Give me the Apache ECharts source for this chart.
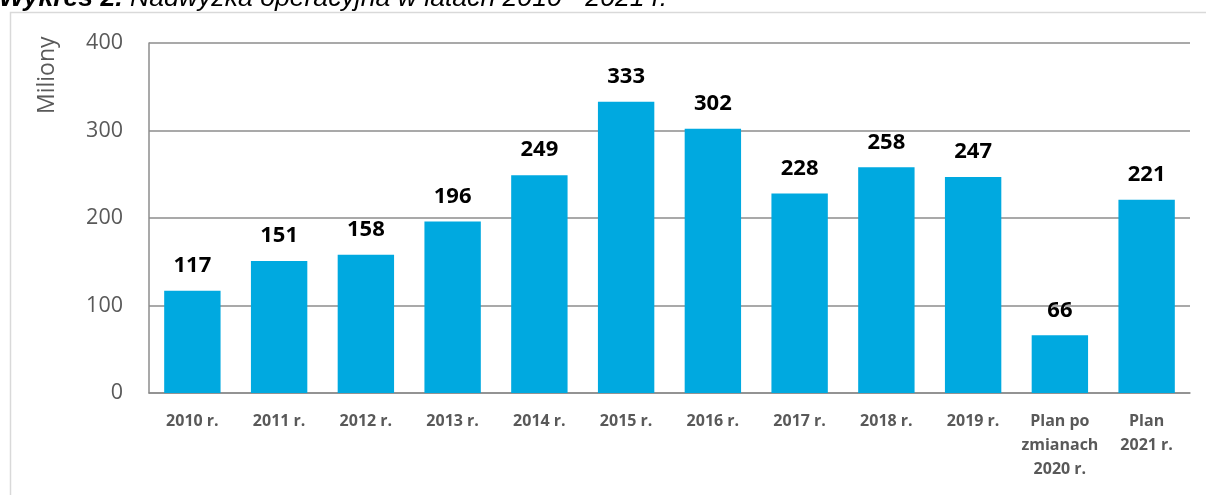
<!DOCTYPE html>
<html>
<head>
<meta charset="utf-8">
<script src="https://cdn.jsdelivr.net/npm/echarts@6/dist/echarts.min.js"></script>
<style>
  html, body { margin: 0; padding: 0; background: #fff; }
  #chart { width: 1206px; height: 495px; }
</style>
</head>
<body>
<div id="chart"></div>
<script>
// kategorie i wartości (mln zł)
const categories = ["2010 r.", "2011 r.", "2012 r.", "2013 r.", "2014 r.", "2015 r.",
    "2016 r.", "2017 r.", "2018 r.", "2019 r.", "Plan po\nzmianach\n2020 r.", "Plan\n2021 r."];
const values = [117, 151, 158, 196, 249, 333, 302, 228, 258, 247, 66, 221];
const yTicks = [0, 100, 200, 300, 400];

const chart = echarts.init(document.getElementById("chart"), null, { renderer: "canvas" });

const option = {
    backgroundColor: "#fff",
    animation: false,
    graphic: [
        {
            type: "rect",
            shape: { x: 10.5, y: 12.5, width: 1210, height: 500 },
            style: { fill: "none", stroke: "#d9d9d9", lineWidth: 1.5 },
            silent: true
        },
        {
            // tytuł wykresu (ucięty u góry jak w oryginale)
            type: "text",
            x: -1,
            y: -1,
            style: {
                text: "{b|Wykres 2.}{i| Nadwyżka operacyjna w latach 2010 - 2021 r.}",
                verticalAlign: "middle",
                rich: {
                    b: { fontFamily: "Liberation Sans", fontSize: 26.6, fontWeight: "bold", fontStyle: "italic", fill: "#000" },
                    i: { fontFamily: "Liberation Sans", fontSize: 26.6, fontStyle: "italic", fill: "#000" }
                }
            }
        },
        {
            type: "text",
            x: 36,
            y: 114,
            rotation: Math.PI / 2,
            style: {
                text: "Miliony",
                fontFamily: "Open Sans",
                fontSize: 23,
                fill: "#595959",
                verticalAlign: "top"
            }
        }
    ],
    grid: { left: 149, right: 16, top: 43, bottom: 102 },
    xAxis: {
        type: "category",
        data: categories,
        axisLine: { lineStyle: { color: "#8c8c8c", width: 1.5 } },
        axisTick: { show: false },
        axisLabel: {
            interval: 0,
            margin: 16,
            color: "#595959",
            fontFamily: "Open Sans",
            fontWeight: "bold",
            fontSize: 16,
            lineHeight: 24
        }
    },
    yAxis: {
        type: "value",
        min: yTicks[0],
        max: yTicks[yTicks.length - 1],
        interval: 100,
        axisLine: { show: true, lineStyle: { color: "#8c8c8c", width: 1.5 } },
        axisTick: { show: false },
        splitLine: { lineStyle: { color: "#8c8c8c", width: 1.5 } },
        axisLabel: {
            margin: 26,
            color: "#595959",
            fontFamily: "Open Sans",
            fontSize: 21.5
        }
    },
    series: [{
        type: "bar",
        data: values,
        barCategoryGap: "35%",
        itemStyle: { color: "#00a9e0" },
        label: {
            show: true,
            position: "top",
            distance: 14,
            color: "#000",
            fontFamily: "Open Sans",
            fontWeight: "bold",
            fontSize: 22
        }
    }]
};

chart.setOption(option);
</script>
</body>
</html>
